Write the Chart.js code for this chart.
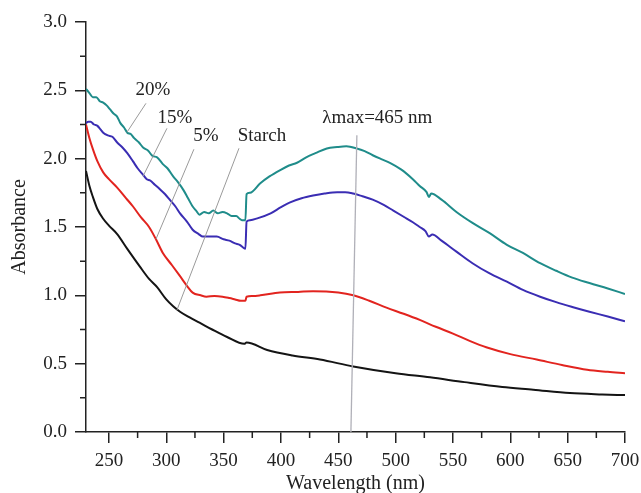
<!DOCTYPE html>
<html>
<head>
<meta charset="utf-8">
<script src="https://cdn.jsdelivr.net/npm/chart.js@4.4.1/dist/chart.umd.min.js"></script>
<style>
  html, body { margin: 0; padding: 0; background: #fff; }
</style>
</head>
<body>
<canvas id="chart1" width="641" height="493"></canvas>
<script>
    // axis ticks
    const xTicks = [250, 300, 350, 400, 450, 500, 550, 600, 650, 700];
    const xMinor = [275, 325, 375, 425, 475, 525, 575, 625, 675];
    const yTicks = [0, 0.5, 1.0, 1.5, 2.0, 2.5, 3.0];
    const yMinor = [0.25, 0.75, 1.25, 1.75, 2.25, 2.75];

    // 20%
    const nm20 = [230, 233, 236, 239, 242, 245, 248, 251, 254, 257, 260, 263, 266, 269, 272, 276, 280, 284, 288, 292, 297, 301, 306, 310, 315, 319, 323, 326, 329, 333, 337, 341, 345, 349, 353, 357, 361, 364, 366, 369, 370, 373, 382, 390, 399, 407, 414, 422, 430, 440, 449, 457, 466, 473, 480, 488, 495, 505, 515, 521, 527, 529, 531, 540, 553, 567, 582, 597, 611, 626, 640, 654, 669, 685, 700];
    const abs20 = [2.51, 2.48, 2.45, 2.45, 2.42, 2.41, 2.39, 2.36, 2.33, 2.31, 2.26, 2.23, 2.19, 2.18, 2.15, 2.12, 2.08, 2.06, 2.02, 2.01, 1.96, 1.93, 1.87, 1.83, 1.77, 1.71, 1.65, 1.62, 1.59, 1.61, 1.60, 1.62, 1.60, 1.61, 1.60, 1.58, 1.58, 1.56, 1.55, 1.55, 1.74, 1.75, 1.82, 1.87, 1.915, 1.95, 1.97, 2.01, 2.04, 2.075, 2.085, 2.09, 2.075, 2.055, 2.025, 1.995, 1.97, 1.92, 1.85, 1.80, 1.755, 1.72, 1.745, 1.70, 1.61, 1.53, 1.455, 1.37, 1.31, 1.235, 1.18, 1.13, 1.09, 1.05, 1.01];

    // 15%
    const nm15 = [230, 232, 234, 237, 240, 243, 245, 249, 253, 257, 262, 266, 271, 275, 280, 283, 286, 290, 294, 299, 303, 308, 312, 318, 323, 328, 332, 338, 344, 350, 355, 360, 364, 367, 369, 370, 373, 380, 391, 400, 408, 418, 428, 438, 449, 456, 463, 471, 480, 490, 498, 507, 515, 521, 526, 529, 532, 540, 553, 567, 582, 597, 611, 626, 640, 654, 669, 685, 700];
    const abs15 = [2.26, 2.27, 2.27, 2.25, 2.24, 2.21, 2.19, 2.17, 2.16, 2.12, 2.08, 2.04, 1.98, 1.93, 1.88, 1.85, 1.84, 1.81, 1.78, 1.74, 1.70, 1.65, 1.60, 1.54, 1.48, 1.45, 1.43, 1.43, 1.43, 1.41, 1.40, 1.38, 1.37, 1.35, 1.34, 1.54, 1.55, 1.565, 1.60, 1.645, 1.68, 1.71, 1.73, 1.745, 1.755, 1.755, 1.745, 1.725, 1.70, 1.66, 1.62, 1.575, 1.535, 1.50, 1.47, 1.43, 1.445, 1.40, 1.32, 1.235, 1.16, 1.10, 1.04, 0.99, 0.95, 0.915, 0.88, 0.845, 0.81];

    // 5%
    const nm5 = [230, 233, 236, 240, 245, 250, 257, 265, 271, 278, 285, 291, 297, 305, 312, 318, 323, 330, 335, 342, 349, 355, 360, 365, 369, 370, 375, 382, 399, 415, 428, 450, 463, 477, 492, 507, 521, 535, 550, 565, 579, 600, 623, 645, 667, 685, 700];
    const abs5 = [2.25, 2.15, 2.07, 1.98, 1.90, 1.85, 1.79, 1.71, 1.65, 1.57, 1.50, 1.41, 1.31, 1.22, 1.14, 1.07, 1.02, 1.00, 0.99, 0.995, 0.99, 0.98, 0.97, 0.96, 0.96, 0.99, 0.995, 1.00, 1.02, 1.025, 1.03, 1.02, 1.00, 0.96, 0.91, 0.865, 0.82, 0.77, 0.72, 0.665, 0.62, 0.57, 0.53, 0.49, 0.455, 0.44, 0.43];

    // Starch
    const nmStarch = [230, 233, 236, 240, 245, 250, 257, 266, 277, 285, 292, 300, 306, 312, 320, 329, 340, 353, 368, 370, 388, 410, 434, 463, 500, 530, 560, 593, 620, 652, 680, 700];
    const absStarch = [1.91, 1.80, 1.72, 1.63, 1.56, 1.51, 1.45, 1.34, 1.21, 1.12, 1.06, 0.97, 0.92, 0.88, 0.84, 0.80, 0.75, 0.695, 0.645, 0.655, 0.60, 0.56, 0.53, 0.48, 0.43, 0.40, 0.365, 0.33, 0.31, 0.285, 0.275, 0.27];

    // labels with leader lines: text position, line start, line end (data units)
    const labelTexts = ['20%', '15%', '5%', 'Starch'];
    const labelPos = [[288.4, 2.50], [307.6, 2.295], [334.6, 2.164], [383.4, 2.164]];
    const leaderFrom = [[282.3, 2.405], [300.6, 2.222], [324.1, 2.069], [363.4, 2.076]];
    const leaderTo = [[265.7, 2.193], [279.7, 1.871], [291.0, 1.411], [309.3, 0.892]];
    const lambdaText = 'λmax=465 nm';
    const lambdaPos = [484, 2.295];
    const lambdaLine = [[466.2, 2.171], [461.0, 0]];

    const serif = '"Liberation Serif", "Times New Roman", serif';
    const ink = '#222';

    function pts(xs, ys) {
        return xs.map((x, i) => ({ x: x, y: ys[i] }));
    }

    const extras = {
        id: 'extras',
        afterDraw(chart) {
            const ctx = chart.ctx;
            const sx = chart.scales.x, sy = chart.scales.y;
            const area = chart.chartArea;
            ctx.save();
            // minor ticks
            ctx.strokeStyle = ink;
            ctx.lineWidth = 1.5;
            ctx.beginPath();
            xMinor.forEach(v => {
                const px = sx.getPixelForValue(v);
                ctx.moveTo(px, area.bottom);
                ctx.lineTo(px, area.bottom + 6);
            });
            yMinor.forEach(v => {
                const py = sy.getPixelForValue(v);
                ctx.moveTo(area.left, py);
                ctx.lineTo(area.left - 6, py);
            });
            ctx.stroke();

            // leader lines
            ctx.strokeStyle = '#9a9a9a';
            ctx.lineWidth = 1;
            ctx.beginPath();
            leaderFrom.forEach((p, i) => {
                const q = leaderTo[i];
                ctx.moveTo(sx.getPixelForValue(p[0]), sy.getPixelForValue(p[1]));
                ctx.lineTo(sx.getPixelForValue(q[0]), sy.getPixelForValue(q[1]));
            });
            ctx.stroke();
            ctx.strokeStyle = '#b0b0b8';
            ctx.lineWidth = 1.3;
            ctx.beginPath();
            ctx.moveTo(sx.getPixelForValue(lambdaLine[0][0]), sy.getPixelForValue(lambdaLine[0][1]));
            ctx.lineTo(sx.getPixelForValue(lambdaLine[1][0]), sy.getPixelForValue(lambdaLine[1][1]));
            ctx.stroke();

            // texts
            ctx.fillStyle = ink;
            ctx.font = '19px ' + serif;
            ctx.textAlign = 'center';
            ctx.textBaseline = 'middle';
            labelTexts.forEach((t, i) => {
                ctx.fillText(t, sx.getPixelForValue(labelPos[i][0]), sy.getPixelForValue(labelPos[i][1]));
            });
            ctx.fillText(lambdaText, sx.getPixelForValue(lambdaPos[0]), sy.getPixelForValue(lambdaPos[1]));
            ctx.restore();
        }
    };

    const ctx = document.getElementById('chart1');
    const tickFont = { family: serif, size: 19 };

    new Chart(ctx, {
        type: 'line',
        data: {
            datasets: [
                { label: '20%', data: pts(nm20, abs20), borderColor: '#1f8c8a' },
                { label: '15%', data: pts(nm15, abs15), borderColor: '#3a2db3' },
                { label: '5%', data: pts(nm5, abs5), borderColor: '#e2241f' },
                { label: 'Starch', data: pts(nmStarch, absStarch), borderColor: '#141414' }
            ]
        },
        options: {
            responsive: false,
            animation: false,
            layout: { padding: { top: 22, right: 16, left: 0, bottom: 0 } },
            elements: {
                point: { radius: 0 },
                line: { borderWidth: 2, cubicInterpolationMode: 'monotone' }
            },
            plugins: {
                legend: { display: false },
                tooltip: { enabled: false }
            },
            scales: {
                x: {
                    type: 'linear',
                    min: 230,
                    max: 700,
                    afterBuildTicks: s => { s.ticks = xTicks.map(v => ({ value: v })); },
                    afterFit: s => { s.height = 61; s.paddingLeft = 0; s.paddingRight = 0; },
                    ticks: { font: tickFont, color: ink, padding: 7, maxRotation: 0, autoSkip: false },
                    grid: { drawOnChartArea: false, drawTicks: true, tickLength: 11, color: ink, lineWidth: 1.5 },
                    border: { display: true, color: ink, width: 1.5 },
                    title: { display: true, text: 'Wavelength (nm)', font: { family: serif, size: 20 }, color: ink, padding: { top: 0, bottom: -3 } }
                },
                y: {
                    min: 0,
                    max: 3,
                    afterBuildTicks: s => { s.ticks = yTicks.map(v => ({ value: v })); },
                    afterFit: s => { s.width = 86; s.paddingTop = 0; s.paddingBottom = 0; },
                    ticks: { font: tickFont, color: ink, padding: 8, callback: v => v.toFixed(1) },
                    grid: { drawOnChartArea: false, drawTicks: true, tickLength: 11, color: ink, lineWidth: 1.5 },
                    border: { display: true, color: ink, width: 1.5 },
                    title: { display: true, text: 'Absorbance', font: { family: serif, size: 20 }, color: ink, padding: { top: 8, bottom: 0 } }
                }
            }
        },
        plugins: [extras]
    });
</script>
</body>
</html>
